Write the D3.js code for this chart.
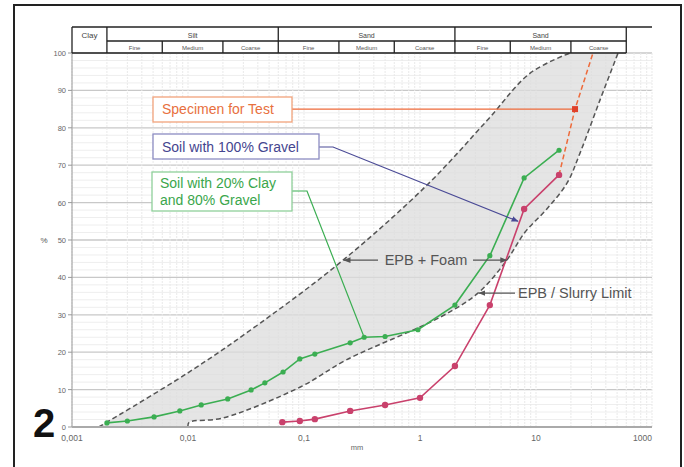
<!DOCTYPE html>
<html>
<head>
<meta charset="utf-8">
<script src="https://cdn.jsdelivr.net/npm/d3@7"></script>
<style>
  body { margin: 0; background: #fff; }
  text { font-family: "Liberation Sans", Arial, sans-serif; }
</style>
</head>
<body>
<svg width="684" height="467"></svg>
<script>
// grain size chart
var upperLimit = [[0.0017, 0], [0.01, 14.5], [0.042, 27.8], [0.217, 44.6], [1.15, 64.7], [3.8, 82], [8.9, 94.6], [19.6, 100]];
var lowerLimit = [[0.01, 0], [0.0102, 1.2], [0.02, 2.4], [0.093, 10.7], [0.234, 18], [1.5, 29.4], [3.16, 35.8], [5.6, 44.6],
  [8, 52], [12.4, 58.3], [18.5, 65.2], [24, 73.3], [35.6, 87.4], [51, 100]];

var clayGravel = [[0.002, 1.1], [0.003, 1.6], [0.0051, 2.7], [0.0085, 4.3], [0.013, 5.9], [0.022, 7.5], [0.035, 9.9], [0.046, 11.8],
  [0.066, 14.7], [0.092, 18.2], [0.124, 19.5], [0.25, 22.5], [0.33, 24], [0.5, 24.2], [0.96, 26], [2, 32.6], [4, 45.8], [7.9, 66.6], [15.8, 74]];
var gravel = [[0.065, 1.3], [0.092, 1.6], [0.124, 2.1], [0.25, 4.3], [0.5, 5.9], [1, 7.8], [2, 16.3], [4, 32.6], [7.9, 58.3], [15.8, 67.4]];
var specimen = [[15.8, 67.4], [21.7, 85], [31, 100]];

var yTicks = [0, 10, 20, 30, 40, 50, 60, 70, 80, 90, 100];
var xTicks = [0.001, 0.01, 0.1, 1, 10, 100];
var xTickLabels = ["0,001", "0,01", "0,1", "1", "10", "1000"];

// soil classes for the header
var mainBounds = [0.001, 0.002, 0.06, 2, 60];
var mainNames = ["Clay", "Silt", "Sand", "Sand"];
var subBounds = [0.002, 0.006, 0.02, 0.06, 0.2, 0.6, 2, 6, 20, 60];
var subNames = ["Fine", "Medium", "Coarse", "Fine", "Medium", "Coarse", "Fine", "Medium", "Coarse"];

var svg = d3.select("svg");

var x = d3.scaleLog().domain([0.001, 100]).range([72, 652]);
var y = d3.scaleLinear().domain([0, 100]).range([427, 53]);

var defs = svg.append("defs");
defs.append("clipPath").attr("id", "frameclip")
  .append("rect").attr("x", 0).attr("y", 0).attr("width", 655).attr("height", 467);
[["arPurple", "#4a4a96"], ["arGray", "#555"]].forEach(function(m) {
  defs.append("marker").attr("id", m[0])
      .attr("viewBox", "0 0 10 10").attr("refX", 9).attr("refY", 5)
      .attr("markerWidth", 6).attr("markerHeight", 6).attr("orient", "auto")
    .append("path").attr("d", "M0,1L10,5L0,9z").attr("fill", m[1]);
});

// frame
svg.append("rect")
    .attr("x", 14).attr("y", 5).attr("width", 667).attr("height", 470)
    .attr("fill", "none").attr("stroke", "#222").attr("stroke-width", 2);

// grid
var grid = svg.append("g");
d3.range(0, 101, 2).forEach(function(v) {
  grid.append("line")
      .attr("x1", x(0.001)).attr("x2", x(100))
      .attr("y1", y(v)).attr("y2", y(v))
      .attr("stroke", v % 10 == 0 ? "#c8c8c8" : "#eeeeee")
      .attr("stroke-width", v % 10 == 0 ? 1.3 : 1);
});
x.ticks().forEach(function(v) {
  grid.append("line")
      .attr("x1", x(v)).attr("x2", x(v))
      .attr("y1", y(0)).attr("y2", y(100))
      .attr("stroke", "#e9e9e9")
      .attr("stroke-dasharray", "2,1");
});

var curve = d3.curveCatmullRom.alpha(0.5);
var lineGen = d3.line().x(function(d) { return x(d[0]); }).y(function(d) { return y(d[1]); });

// shaded EPB zone
var zonePts = upperLimit.concat(lowerLimit.slice().reverse());
svg.append("path")
    .attr("d", d3.line().x(function(d) { return x(d[0]); }).y(function(d) { return y(d[1]); })
      .curve(curve)(upperLimit) + "L" +
      d3.line().x(function(d) { return x(d[0]); }).y(function(d) { return y(d[1]); })
      .curve(curve)(lowerLimit.slice().reverse()).slice(1) + "Z")
    .attr("fill", "#dcdcdc").attr("fill-opacity", 0.75);

[upperLimit, lowerLimit].forEach(function(b) {
  svg.append("path")
      .attr("d", lineGen.curve(curve)(b))
      .attr("fill", "none").attr("stroke", "#555")
      .attr("stroke-width", 1.5).attr("stroke-dasharray", "5,3");
});
lineGen.curve(d3.curveLinear);

// axes
svg.append("line").attr("x1", x(0.001)).attr("x2", x(0.001)).attr("y1", y(0)).attr("y2", y(100))
    .attr("stroke", "#999");
svg.append("line").attr("x1", x(0.001)).attr("x2", x(100)).attr("y1", y(0)).attr("y2", y(0))
    .attr("stroke", "#aaa").attr("stroke-width", 2);

svg.append("g").selectAll("text").data(yTicks).enter().append("text")
    .attr("x", 66).attr("y", function(d) { return y(d) + 3; })
    .attr("text-anchor", "end").attr("font-size", 7.5).attr("fill", "#666")
    .text(function(d) { return d; });
svg.append("g").selectAll("line").data(yTicks).enter().append("line")
    .attr("x1", 68).attr("x2", 72).attr("y1", function(d) { return y(d); }).attr("y2", function(d) { return y(d); })
    .attr("stroke", "#999");

svg.append("g").attr("clip-path", "url(#frameclip)")
  .selectAll("text").data(xTicks).enter().append("text")
    .attr("x", function(d, i) { return i == xTicks.length - 1 ? x(d) - 19 : x(d); })
    .attr("y", 441)
    .attr("text-anchor", function(d, i) { return i == xTicks.length - 1 ? "start" : "middle"; })
    .attr("font-size", 8.5).attr("fill", "#666")
    .text(function(d, i) { return xTickLabels[i]; });

svg.append("text").attr("x", 357).attr("y", 450).attr("text-anchor", "middle")
    .attr("font-size", 7.5).attr("fill", "#666").text("mm");
svg.append("text").attr("x", 44).attr("y", 243).attr("text-anchor", "middle")
    .attr("font-size", 8).attr("fill", "#555").text("%");

// header table
var hTop = 27, hMid = 41, hBot = 53;
var head = svg.append("g").attr("stroke", "#222").attr("stroke-width", 1.3);
head.append("line").attr("x1", x(0.001)).attr("x2", x(100)).attr("y1", hTop).attr("y2", hTop);
head.append("line").attr("x1", x(0.001)).attr("x2", x(60)).attr("y1", hBot).attr("y2", hBot);
head.append("line").attr("x1", x(0.002)).attr("x2", x(60)).attr("y1", hMid).attr("y2", hMid);
mainBounds.forEach(function(b) {
  head.append("line").attr("x1", x(b)).attr("x2", x(b)).attr("y1", hTop).attr("y2", hBot);
});
subBounds.forEach(function(b, i) {
  if (i % 3 == 0) return;
  head.append("line").attr("x1", x(b)).attr("x2", x(b)).attr("y1", hMid).attr("y2", hBot);
});
mainNames.forEach(function(n, i) {
  var cx = x(Math.sqrt(mainBounds[i] * mainBounds[i + 1]));
  svg.append("text").attr("x", cx).attr("y", i == 0 ? 38 : 37.5)
      .attr("text-anchor", "middle").attr("font-size", i == 0 ? 8 : 7).attr("fill", "#444").text(n);
});
subNames.forEach(function(n, i) {
  var cx = x(Math.sqrt(subBounds[i] * subBounds[i + 1]));
  svg.append("text").attr("x", cx).attr("y", 50)
      .attr("text-anchor", "middle").attr("font-size", 6).attr("fill", "#555").text(n);
});

// specimen (dashed)
svg.append("path").attr("d", lineGen(specimen))
    .attr("fill", "none").attr("stroke", "#ee6a3a").attr("stroke-width", 1.5).attr("stroke-dasharray", "5,3");

// series
function drawSeries(data, color, r) {
  svg.append("path").attr("d", lineGen(data))
      .attr("fill", "none").attr("stroke", color).attr("stroke-width", 1.6);
  svg.append("g").selectAll("circle").data(data).enter().append("circle")
      .attr("cx", function(d) { return x(d[0]); })
      .attr("cy", function(d) { return y(d[1]); })
      .attr("r", r).attr("fill", color);
}
drawSeries(gravel, "#c9416c", 3.2);
drawSeries(clayGravel, "#3bae52", 2.6);

// callouts
function box(x0, y0, w, h, stroke) {
  svg.append("rect").attr("x", x0).attr("y", y0).attr("width", w).attr("height", h)
      .attr("fill", "#fff").attr("stroke", stroke).attr("stroke-width", 1.3);
}

// specimen for test
var spec = specimen[1];
svg.append("line").attr("x1", 292).attr("x2", x(spec[0])).attr("y1", y(spec[1])).attr("y2", y(spec[1]))
    .attr("stroke", "#ee6a3a").attr("stroke-width", 1.2);
svg.append("rect").attr("x", x(spec[0]) - 3).attr("y", y(spec[1]) - 3).attr("width", 6).attr("height", 6)
    .attr("fill", "#e0402a");
box(153, 97, 139, 25, "#f2a37c");
svg.append("text").attr("x", 162).attr("y", y(spec[1]) + 5).attr("font-size", 14).attr("fill", "#e8703e")
    .text("Specimen for Test");

// soil with 100% gravel
var gTarget = [7, 55];
svg.append("path")
    .attr("d", d3.line()([[319, 147], [333, 147], [x(gTarget[0]), y(gTarget[1])]]))
    .attr("fill", "none").attr("stroke", "#4a4a96").attr("stroke-width", 1.2)
    .attr("marker-end", "url(#arPurple)");
box(153, 134, 166, 25, "#8c8cc2");
svg.append("text").attr("x", 162).attr("y", 152).attr("font-size", 14).attr("fill", "#45458f")
    .text("Soil with 100% Gravel");

// soil with 20% clay
var cTarget = clayGravel[12];
svg.append("path")
    .attr("d", d3.line()([[292, 191], [307, 191], [x(cTarget[0]), y(cTarget[1])]]))
    .attr("fill", "none").attr("stroke", "#3bae52").attr("stroke-width", 1.2);
box(152, 172, 140, 39, "#8fd09a");
svg.append("text").attr("x", 160).attr("y", 188).attr("font-size", 14).attr("fill", "#3aa64c")
    .text("Soil with 20% Clay");
svg.append("text").attr("x", 160).attr("y", 205).attr("font-size", 14).attr("fill", "#3aa64c")
    .text("and 80% Gravel");

// EPB + Foam
var foamY = upperLimit[3][1];
svg.append("text").attr("x", 426).attr("y", y(foamY) + 5).attr("text-anchor", "middle")
    .attr("font-size", 14.5).attr("fill", "#555").text("EPB + Foam");
svg.append("line").attr("x1", 378).attr("x2", x(upperLimit[3][0]) + 1).attr("y1", y(foamY)).attr("y2", y(foamY))
    .attr("stroke", "#555").attr("stroke-width", 1.2).attr("marker-end", "url(#arGray)");
svg.append("line").attr("x1", 473).attr("x2", x(lowerLimit[7][0])).attr("y1", y(foamY)).attr("y2", y(foamY))
    .attr("stroke", "#555").attr("stroke-width", 1.2).attr("marker-end", "url(#arGray)");

// EPB / Slurry Limit
var slurry = lowerLimit[6];
svg.append("line").attr("x1", 515).attr("x2", x(slurry[0]) + 1).attr("y1", y(slurry[1])).attr("y2", y(slurry[1]))
    .attr("stroke", "#555").attr("stroke-width", 1.2).attr("marker-end", "url(#arGray)");
svg.append("text").attr("x", 518).attr("y", y(slurry[1]) + 5)
    .attr("font-size", 14.5).attr("fill", "#555").text("EPB / Slurry Limit");

// figure number
svg.append("text").attr("x", 33).attr("y", 437)
    .attr("font-family", "'Open Sans', sans-serif").attr("font-weight", 700)
    .attr("font-size", 40).attr("fill", "#111").text("2");
</script>
</body>
</html>
